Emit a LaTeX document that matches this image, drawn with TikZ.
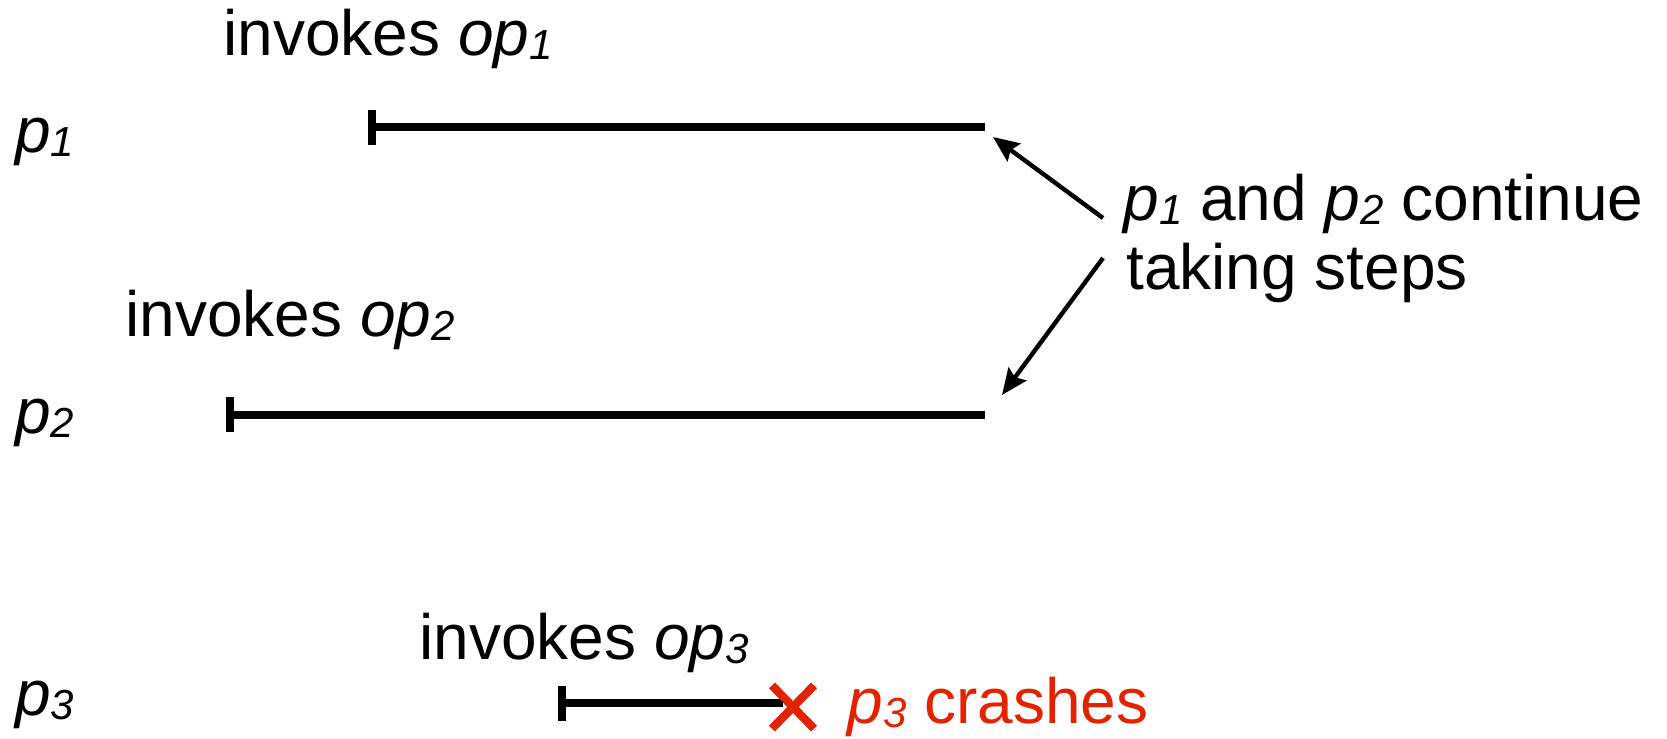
\documentclass[tikz,border=0pt]{standalone}
\usepackage{fontspec}
\setmainfont{Liberation Sans}
\usetikzlibrary{arrows.meta,shapes.misc}
\definecolor{crash}{RGB}{227,35,0}
% italic name with a small, slightly lowered index
\newcommand\proc[1]{\textit{p\lower0.07em\hbox{\fontsize{21pt}{22pt}\selectfont #1}}}
\newcommand\oper[1]{\textit{op\lower0.07em\hbox{\fontsize{21pt}{22pt}\selectfont #1}}}
\begin{document}
\begin{tikzpicture}[x=0.5pt,y=-0.5pt,
  lbl/.style={anchor=base west, inner sep=0pt, font=\fontsize{32pt}{38pt}\selectfont},
  run/.style={line width=4pt, {Bar[width=17.5pt]}-},
  note/.style={line width=2.2pt, -{Stealth[length=13pt,width=11pt,inset=2pt]}},
  xmark/.style={cross out, draw=crash, line width=4pt, inner sep=0pt,
                minimum width=17pt, minimum height=17.5pt}]
\useasboundingbox (0,0) rectangle (1667,739);

% process names
\node[lbl] (p1) at (15,152) {\proc{1}};
\node[lbl] (p2) at (15,433) {\proc{2}};
\node[lbl] (p3) at (15,715) {\proc{3}};

% invocation labels
\node[lbl] (inv1) at (223,55) {invokes \oper{1}};
\node[lbl] (inv2) at (125,336) {invokes \oper{2}};
\node[lbl] (inv3) at (419,659) {invokes \oper{3}};

% operation intervals
\coordinate (s1) at (368,127);
\coordinate (e1) at (985,127);
\coordinate (s2) at (225.5,414.5);
\coordinate (e2) at (985,414.5);
\coordinate (s3) at (558,703);
\node[xmark] (x3) at (793,707) {};
\draw[run] (s1) -- (e1);
\draw[run] (s2) -- (e2);
\draw[run] (s3) -- (783,703) coordinate (e3);
\node[xmark] at (x3) {};

% crash label
\node[lbl, text=crash] (crash) at (847,723) {\proc{3} crashes};

% comment with arrows
\node[lbl] (cont1) at (1123,220) {\proc{1} and \proc{2} continue};
\node[lbl] (cont2) at (1126,289) {taking steps};
\coordinate (t1) at (1103,218);
\coordinate (h1) at (993,137);
\coordinate (t2) at (1103,258);
\coordinate (h2) at (1002,395);
\draw[note] (t1) -- (h1);
\draw[note] (t2) -- (h2);
\end{tikzpicture}
\end{document}
